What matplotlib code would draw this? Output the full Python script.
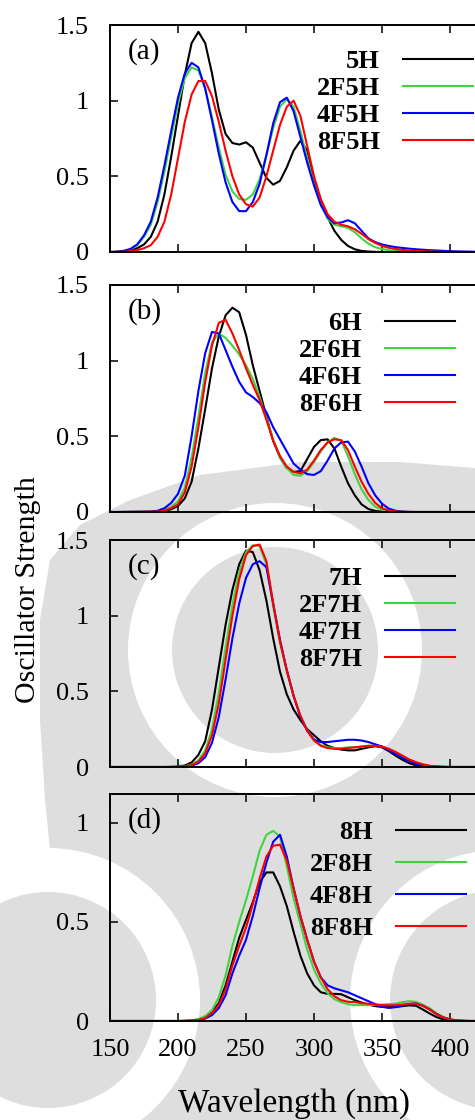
import numpy as np
import matplotlib
matplotlib.use("Agg")
from matplotlib import pyplot as plt
from matplotlib.patches import Circle, Polygon

plt.rcParams['font.family'] = ['Liberation Serif', 'DejaVu Serif']

# wavelength grid (nm), common to every curve
wl = np.arange(150, 455, 5)

# panel (a)
h5 = [0, 0.001, 0.003, 0.01, 0.025, 0.05, 0.10, 0.20, 0.38, 0.63, 0.90, 1.17, 1.38, 1.455, 1.38, 1.18,
      0.94, 0.78, 0.72, 0.71, 0.725, 0.69, 0.59, 0.49, 0.445, 0.47, 0.56, 0.67, 0.735, 0.67, 0.48, 0.34,
      0.23, 0.14, 0.08, 0.04, 0.018, 0.007, 0.003, 0.001] + [0] * 21
g5 = [0, 0.001, 0.006, 0.017, 0.045, 0.10, 0.18, 0.33, 0.53, 0.76, 0.98, 1.15, 1.22, 1.20, 1.08, 0.89,
      0.69, 0.51, 0.40, 0.35, 0.345, 0.38, 0.48, 0.64, 0.82, 0.96, 1.01, 0.96, 0.80, 0.62, 0.45, 0.32,
      0.22, 0.18, 0.17, 0.16, 0.13, 0.09, 0.055, 0.032, 0.02, 0.012, 0.007, 0.004, 0.003, 0.002,
      0.001] + [0] * 14
b5 = [0, 0.002, 0.008, 0.02, 0.05, 0.11, 0.20, 0.36, 0.57, 0.80, 1.02, 1.18, 1.25, 1.22, 1.08, 0.87,
      0.65, 0.46, 0.33, 0.27, 0.27, 0.33, 0.45, 0.64, 0.85, 0.99, 1.02, 0.93, 0.76, 0.59, 0.44, 0.31,
      0.23, 0.19, 0.195, 0.21, 0.19, 0.14, 0.09, 0.065, 0.05, 0.04, 0.032, 0.027, 0.022, 0.018, 0.015,
      0.012, 0.01, 0.008, 0.006, 0.004, 0.003, 0.002, 0.001] + [0] * 6
r5 = [0, 0.001, 0.002, 0.005, 0.012, 0.025, 0.045, 0.10, 0.20, 0.38, 0.62, 0.86, 1.04, 1.13, 1.13, 1.03,
      0.86, 0.67, 0.50, 0.38, 0.315, 0.30, 0.36, 0.50, 0.67, 0.84, 0.96, 1.00, 0.90, 0.70, 0.50, 0.35,
      0.25, 0.20, 0.18, 0.17, 0.15, 0.12, 0.085, 0.06, 0.04, 0.028, 0.02, 0.014, 0.01, 0.007, 0.005,
      0.003, 0.002, 0.001] + [0] * 11

# panel (b)
h6 = [0, 0, 0, 0, 0, 0.001, 0.001, 0.002, 0.006, 0.018, 0.04, 0.09, 0.20, 0.42, 0.68, 0.95,
      1.16, 1.30, 1.35, 1.32, 1.17, 0.97, 0.80, 0.63, 0.47, 0.36, 0.29, 0.265, 0.27, 0.35, 0.43, 0.475,
      0.48, 0.42, 0.30, 0.19, 0.11, 0.05, 0.02, 0.007, 0.002] + [0] * 20
g6 = [0, 0, 0, 0.001, 0.001, 0.002, 0.003, 0.005, 0.013, 0.035, 0.07, 0.16, 0.36, 0.63, 0.92, 1.12,
      1.18, 1.15, 1.10, 1.04, 0.97, 0.88, 0.76, 0.62, 0.48, 0.36, 0.29, 0.245, 0.24, 0.27, 0.33, 0.40,
      0.46, 0.49, 0.47, 0.37, 0.25, 0.15, 0.08, 0.035, 0.015, 0.005, 0.002, 0.001] + [0] * 17
b6 = [0, 0, 0.001, 0.001, 0.002, 0.002, 0.003, 0.008, 0.025, 0.06, 0.12, 0.24, 0.50, 0.80, 1.05, 1.19,
      1.18, 1.07, 0.96, 0.86, 0.79, 0.76, 0.72, 0.66, 0.56, 0.48, 0.40, 0.32, 0.28, 0.25, 0.245, 0.27,
      0.34, 0.42, 0.46, 0.465, 0.40, 0.30, 0.19, 0.11, 0.055, 0.022, 0.008, 0.003, 0.001] + [0] * 16
r6 = [0, 0, 0, 0.001, 0.001, 0.001, 0.002, 0.003, 0.01, 0.025, 0.05, 0.13, 0.30, 0.56, 0.86, 1.10,
      1.25, 1.27, 1.18, 1.07, 0.95, 0.84, 0.74, 0.61, 0.47, 0.37, 0.30, 0.265, 0.255, 0.28, 0.34, 0.41,
      0.46, 0.48, 0.475, 0.41, 0.30, 0.20, 0.12, 0.06, 0.025, 0.01, 0.004, 0.001] + [0] * 17

# panel (c)
h7 = [0] * 9 + [0.001, 0.002, 0.01, 0.03, 0.08, 0.17, 0.38, 0.66, 0.94, 1.17, 1.34, 1.43, 1.42, 1.30,
      1.10, 0.85, 0.63, 0.48, 0.38, 0.31, 0.25, 0.21, 0.17, 0.14, 0.125, 0.115, 0.11, 0.11, 0.12, 0.13,
      0.137, 0.13, 0.105, 0.075, 0.048, 0.025, 0.011, 0.004, 0.002, 0.001] + [0] * 12
g7 = [0] * 10 + [0.001, 0.005, 0.015, 0.045, 0.11, 0.25, 0.49, 0.79, 1.07, 1.29, 1.42, 1.465, 1.46,
      1.34, 1.06, 0.82, 0.63, 0.47, 0.34, 0.245, 0.18, 0.145, 0.13, 0.125, 0.125, 0.13, 0.13, 0.135,
      0.14, 0.14, 0.135, 0.12, 0.095, 0.07, 0.048, 0.03, 0.016, 0.007, 0.003, 0.001] + [0] * 11
b7 = [0] * 10 + [0.001, 0.003, 0.008, 0.025, 0.065, 0.16, 0.33, 0.58, 0.85, 1.08, 1.25, 1.34, 1.36,
      1.32, 1.08, 0.84, 0.64, 0.47, 0.33, 0.24, 0.18, 0.165, 0.165, 0.17, 0.175, 0.18, 0.18, 0.175,
      0.165, 0.15, 0.135, 0.11, 0.085, 0.06, 0.038, 0.022, 0.012, 0.006, 0.003, 0.001] + [0] * 11
r7 = [0] * 10 + [0.001, 0.004, 0.012, 0.035, 0.09, 0.21, 0.42, 0.71, 1.00, 1.24, 1.40, 1.46, 1.47,
      1.36, 1.08, 0.83, 0.64, 0.47, 0.34, 0.24, 0.175, 0.14, 0.125, 0.12, 0.12, 0.125, 0.13, 0.135,
      0.14, 0.14, 0.135, 0.12, 0.10, 0.075, 0.05, 0.032, 0.018, 0.008, 0.003, 0.001] + [0] * 11

# panel (d)
h8 = [0] * 11 + [0.001, 0.003, 0.008, 0.02, 0.045, 0.09, 0.18, 0.30, 0.42, 0.51, 0.60, 0.70, 0.75,
      0.75, 0.68, 0.58, 0.45, 0.33, 0.24, 0.18, 0.145, 0.137, 0.137, 0.135, 0.12, 0.105, 0.093, 0.083,
      0.075, 0.071, 0.07, 0.071, 0.075, 0.079, 0.077, 0.058, 0.038, 0.02, 0.008, 0.003, 0.001] + [0] * 9
g8 = [0] * 11 + [0.001, 0.003, 0.01, 0.025, 0.055, 0.12, 0.23, 0.38, 0.50, 0.61, 0.73, 0.86, 0.94,
      0.96, 0.93, 0.78, 0.62, 0.49, 0.36, 0.26, 0.19, 0.14, 0.11, 0.095, 0.085, 0.08, 0.08, 0.08, 0.082,
      0.083, 0.085, 0.088, 0.095, 0.10, 0.097, 0.082, 0.065, 0.04, 0.02, 0.009, 0.003, 0.001] + [0] * 8
b8 = [0] * 12 + [0.001, 0.004, 0.012, 0.03, 0.065, 0.13, 0.24, 0.33, 0.41, 0.53, 0.67, 0.80, 0.905,
      0.94, 0.83, 0.67, 0.53, 0.41, 0.30, 0.22, 0.18, 0.165, 0.155, 0.145, 0.13, 0.115, 0.10, 0.085,
      0.072, 0.066, 0.07, 0.078, 0.086, 0.088, 0.077, 0.058, 0.035, 0.018, 0.008, 0.003, 0.001] + [0] * 8
r8 = [0] * 12 + [0.002, 0.005, 0.015, 0.04, 0.08, 0.16, 0.28, 0.38, 0.47, 0.59, 0.72, 0.83, 0.885,
      0.89, 0.81, 0.67, 0.53, 0.41, 0.30, 0.22, 0.16, 0.125, 0.105, 0.097, 0.095, 0.09, 0.087, 0.083,
      0.08, 0.079, 0.08, 0.083, 0.087, 0.088, 0.077, 0.058, 0.035, 0.018, 0.008, 0.003, 0.001] + [0] * 8

panels = [
    ("(a)", ["5H", "2F5H", "4F5H", "8F5H"], [h5, g5, b5, r5], 1.5),
    ("(b)", ["6H", "2F6H", "4F6H", "8F6H"], [h6, g6, b6, r6], 1.5),
    ("(c)", ["7H", "2F7H", "4F7H", "8F7H"], [h7, g7, b7, r7], 1.5),
    ("(d)", ["8H", "2F8H", "4F8H", "8F8H"], [h8, g8, b8, r8], 1.146),
]
colors = ['black', '#3fd43f', '#0000ff', '#ff0000']

W, H = 475, 1120
fig = plt.figure(figsize=(W / 100, H / 100), dpi=100)

# faint watermark behind the plots
bg = fig.add_axes([0, 0, 1, 1], zorder=-10)
bg.set_xlim(0, W)
bg.set_ylim(H, 0)
bg.axis('off')
gray = '#dedede'
bg.add_patch(Polygon([(475, 468), (400, 462), (300, 462), (200, 475), (130, 500), (80, 525),
                      (50, 560), (40, 620), (40, 720), (45, 800), (50, 850), (0, 860), (0, 1120),
                      (475, 1120)], closed=True, fc=gray, ec='none'))
for cx, cy, r_out, r_in in [(275, 650, 147, 103), (48, 1000, 152, 108), (500, 1000, 150, 110)]:
    bg.add_patch(Circle((cx, cy), r_out, fc='white', ec='none'))
    bg.add_patch(Circle((cx, cy), r_in, fc=gray, ec='none'))

# axes boxes in pixels: (top, bottom)
boxes = [(25, 252), (285, 512), (540, 767), (794, 1021)]
leg_right = [473, 455, 455, 466]
leg_row1 = [61, 323, 578, 832]
leg_step = [25.3, 25.3, 25.3, 30.3]
left_px = 110
xmin, xmax = 150, 450
width_px = (xmax - xmin) * 68 / 50
fs_leg = 19
em = fs_leg * 100 / 72
row_h = 22.0

for i, (tag, names, series, ytop) in enumerate(panels):
    top, bot = boxes[i]
    ax = fig.add_axes([left_px / W, 1 - bot / H, width_px / W, (bot - top) / H])
    ax.set_facecolor('none')
    for ys, name, c in zip(series, names, colors):
        ax.plot(wl, ys, color=c, lw=1.5, label=name)
    ax.set_xlim(xmin, xmax)
    ax.set_ylim(0, ytop)
    ax.set_xticks([150, 200, 250, 300, 350, 400])
    if ytop > 1.2:
        ax.set_yticks([0, 0.5, 1, 1.5])
        ax.set_yticklabels(['0', '0.5', '1', '1.5'])
    else:
        ax.set_yticks([0, 0.5, 1])
        ax.set_yticklabels(['0', '0.5', '1'])
    ax.tick_params(direction='in', length=6, width=1.1, top=True, right=True,
                   labelsize=19, pad=15)
    if i < 3:
        ax.tick_params(labelbottom=False)
    else:
        ax.tick_params(axis='x', pad=13)
    for sp in ax.spines.values():
        sp.set_linewidth(1.4)
    ax.text(0.044, 1 - 27 / (bot - top), tag, transform=ax.transAxes, fontsize=21,
            va='center', ha='left')
    ax.legend(loc='upper right',
              bbox_to_anchor=(leg_right[i] / W, 1 - (leg_row1[i] - row_h / 2) / H),
              bbox_transform=fig.transFigure, frameon=False, borderpad=0, borderaxespad=0,
              markerfirst=False, handlelength=70 / em, handletextpad=0.87,
              labelspacing=(leg_step[i] - row_h) / em,
              prop={'weight': 'bold', 'size': fs_leg})

fig.text(28 / W, 1 - 590 / H, 'Oscillator Strength', rotation=90, fontsize=21.5,
         ha='center', va='center')
fig.text(294 / W, 1 - 1112 / H, 'Wavelength (nm)', fontsize=24, ha='center', va='baseline')

fig.savefig('out.png', dpi=100, facecolor='white')
